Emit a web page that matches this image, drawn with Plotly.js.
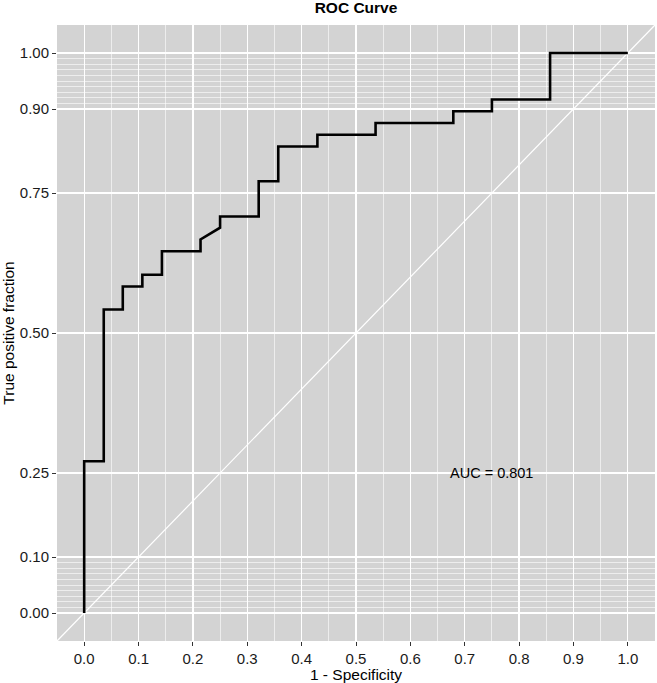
<!DOCTYPE html>
<html>
<head>
<meta charset="utf-8">
<script src="https://cdn.plot.ly/plotly-3.0.1.min.js"></script>
<style>
  html, body { margin: 0; padding: 0; background: #fff; }
  #chart { width: 657px; height: 683px; }
</style>
</head>
<body>
<div id="chart"></div>
<script>
// ROC step curve
const fpr = [0, 0, 0.036, 0.036, 0.071, 0.071, 0.107, 0.107, 0.143, 0.143, 0.214, 0.214,
  0.25, 0.25, 0.321, 0.321, 0.357, 0.357, 0.429, 0.429, 0.536, 0.536, 0.679, 0.679,
  0.75, 0.75, 0.857, 0.857, 1];
const tpr = [0, 0.271, 0.271, 0.542, 0.542, 0.583, 0.583, 0.604, 0.604, 0.646, 0.646, 0.667,
  0.688, 0.708, 0.708, 0.771, 0.771, 0.833, 0.833, 0.854, 0.854, 0.875, 0.875, 0.896,
  0.896, 0.917, 0.917, 1, 1];

const xTicks = [0, 0.1, 0.2, 0.3, 0.4, 0.5, 0.6, 0.7, 0.8, 0.9, 1];
const xTickText = ['0.0', '0.1', '0.2', '0.3', '0.4', '0.5', '0.6', '0.7', '0.8', '0.9', '1.0'];
const yTicks = [0, 0.1, 0.25, 0.5, 0.75, 0.9, 1];
const yTickText = ['0.00', '0.10', '0.25', '0.50', '0.75', '0.90', '1.00'];
const yMinor = [0.01, 0.02, 0.03, 0.04, 0.05, 0.06, 0.07, 0.08, 0.09,
  0.91, 0.92, 0.93, 0.94, 0.95, 0.96, 0.97, 0.98, 0.99];
const xMinor = [0.05, 0.15, 0.25, 0.35, 0.45, 0.55, 0.65, 0.75, 0.85, 0.95];

const aucLabel = 'AUC = 0.801';
const aucPos = [0.75, 0.25];

const font = 'Liberation Sans, Arial, sans-serif';

const data = [{
  type: 'scatter',
  mode: 'lines',
  x: fpr,
  y: tpr,
  line: {color: '#000', width: 2.6},
  hoverinfo: 'skip'
}];

const layout = {
  width: 657,
  height: 683,
  margin: {l: 57, r: 2, t: 25, b: 42},
  paper_bgcolor: '#fff',
  plot_bgcolor: '#d3d3d3',
  showlegend: false,
  font: {family: font, size: 15, color: '#1a1a1a'},
  title: {
    text: '<b>ROC Curve</b>',
    font: {family: font, size: 15.5, color: '#000'},
    x: 0.5, xref: 'paper', xanchor: 'center',
    y: 1 - 8 / 683, yref: 'container', yanchor: 'middle'
  },
  xaxis: {
    range: [-0.05, 1.05],
    tickmode: 'array', tickvals: xTicks, ticktext: xTickText,
    ticks: 'outside', ticklen: 4, tickwidth: 1, tickcolor: '#333',
    showgrid: true, gridcolor: '#fff', gridwidth: 1.3,
    minor: {tickmode: 'array', tickvals: xMinor, showgrid: true, gridcolor: '#fff', gridwidth: 0.6, ticks: ''},
    zeroline: false, showline: false,
    title: {text: '1 - Specificity', font: {family: font, size: 15.5, color: '#000'}, standoff: 4},
    fixedrange: true
  },
  yaxis: {
    range: [-0.05, 1.05],
    tickmode: 'array', tickvals: yTicks, ticktext: yTickText,
    ticks: 'outside', ticklen: 4, tickwidth: 1, tickcolor: '#333',
    showgrid: true, gridcolor: '#fff', gridwidth: 1.3,
    minor: {tickmode: 'array', tickvals: yMinor, showgrid: true, gridcolor: '#fff', gridwidth: 0.6, ticks: ''},
    zeroline: false, showline: false,
    title: {text: 'True positive fraction', font: {family: font, size: 15.5, color: '#000'}, standoff: 4},
    fixedrange: true
  },
  shapes: [{
    type: 'line', xref: 'paper', yref: 'paper',
    x0: 0, y0: 0, x1: 1, y1: 1,
    line: {color: '#fff', width: 1.2},
    layer: 'below'
  }],
  annotations: [{
    x: aucPos[0], y: aucPos[1], xref: 'x', yref: 'y',
    text: aucLabel, showarrow: false,
    font: {family: font, size: 14.5, color: '#000'},
    xanchor: 'center', yanchor: 'middle'
  }]
};

Plotly.newPlot('chart', data, layout, {displayModeBar: false, staticPlot: true});
</script>
</body>
</html>
